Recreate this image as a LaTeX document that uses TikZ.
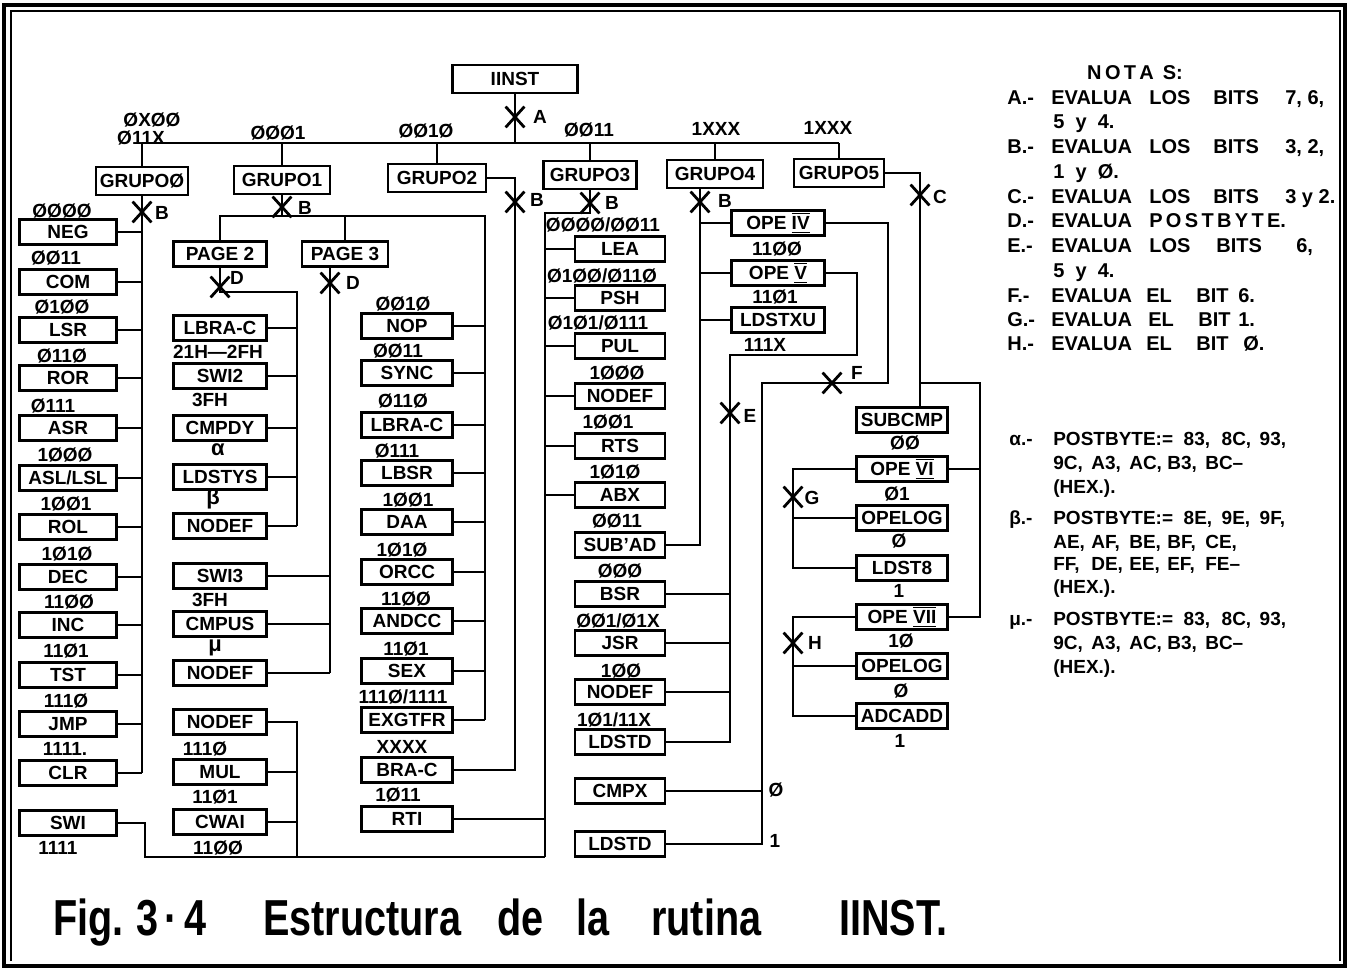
\documentclass[tikz,border=0pt]{standalone}
\usepackage{fontspec}
\setmainfont{Liberation Sans}
\usepackage{graphicx}
\usetikzlibrary{shapes.misc,calc}
\newcommand\RN[1]{\ensuremath{\overline{\underline{\hbox{#1}}}}}
\newcommand\tk[1]{\makebox[19pt][l]{#1}}
\newcommand\cw[1]{\scalebox{0.9}[1.15]{#1}}
\begin{document}
\begin{tikzpicture}[x=0.5pt,y=-0.5pt,line width=1.3pt,
  every node/.style={font=\fontsize{9.5}{10}\selectfont\bfseries},
  bx/.style={draw,line width=1.3pt,minimum height=12.5pt,inner sep=1pt,font=\fontsize{9.5}{11}\selectfont\bfseries},
  wL/.style={bx,minimum width=48.5pt},
  wP/.style={bx,minimum width=46.5pt},
  wM/.style={bx,minimum width=45.5pt},
  wT/.style={bx,minimum width=45pt},
  wF/.style={bx,minimum width=46.5pt},
  wV/.style={bx,minimum width=45.5pt},
  gr/.style={bx,minimum height=14pt},
  lab/.style={inner sep=0pt},
  xm/.style={draw,cross out,line width=1.4pt,minimum width=8pt,minimum height=9pt,inner sep=0pt},
  nt/.style={anchor=base west,inner sep=0pt,font=\fontsize{10}{12}\selectfont\bfseries},
  gt/.style={anchor=base west,inner sep=0pt,font=\fontsize{9.5}{11}\selectfont\bfseries},
  captxt/.style={anchor=base west,inner sep=0pt,font=\fontsize{22}{24}\selectfont\bfseries}]
\useasboundingbox (0,0) rectangle (1348,972);
% frame
\draw[line width=1.8pt] (4,5) rectangle (1345,966);
\draw[line width=1pt] (11,961) -- (11,11) -- (1340,11) -- (1340,961);

% ---------- top ----------
\node[gr,minimum width=62.5pt] (iinst) at (515,79) {IINST};
\node[gr,minimum width=46pt] (g0) at (142,181) {GRUPOØ};
\node[gr,minimum width=48pt] (g1) at (282,180) {GRUPO1};
\node[gr,minimum width=49pt] (g2) at (437,178) {GRUPO2};
\node[gr,minimum width=46.5pt] (g3) at (590,175) {GRUPO3};
\node[gr,minimum width=48pt] (g4) at (715,174) {GRUPO4};
\node[gr,minimum width=45pt] (g5) at (839,173) {GRUPO5};
\coordinate (bus0) at (142,143);
\coordinate (bus5) at (839,143);
\draw (bus0) -- (bus5);
\draw (iinst.south) -- (iinst.south |- bus0);
\foreach \g in {g0,g1,g2,g3,g4,g5} \draw (\g.north) -- (\g.north |- bus0);
\node[xm] (xa) at (515,117) {};
\node[lab] (la) at (540,117) {A};
\node[lab] (b0a) at (152,120) {ØXØØ};
\node[lab] (b0b) at (141,138) {Ø11X};
\node[lab] (b1) at (278,133) {ØØØ1};
\node[lab] (b2) at (426,131) {ØØ1Ø};
\node[lab] (b3) at (589,130) {ØØ11};
\node[lab] (b4) at (716,129) {1XXX};
\node[lab] (b5) at (828,128) {1XXX};

% ---------- GRUPO 0 ----------
\node[wL] (neg) at (68,232) {NEG};
\node[wL] (com) at (68,282) {COM};
\node[wL] (lsr) at (68,330) {LSR};
\node[wL] (ror) at (68,378) {ROR};
\node[wL] (asr) at (68,428) {ASR};
\node[wL] (asl) at (68,478) {ASL/LSL};
\node[wL] (rol) at (68,527) {ROL};
\node[wL] (dec) at (68,577) {DEC};
\node[wL] (inc) at (68,625) {INC};
\node[wL] (tst) at (68,675) {TST};
\node[wL] (jmp) at (68,724) {JMP};
\node[wL] (clr) at (68,773) {CLR};
\node[wL] (swi) at (68,823) {SWI};
\node[lab] (k1) at (62,211) {ØØØØ};
\node[lab] (k2) at (56,258) {ØØ11};
\node[lab] (k3) at (62,307) {Ø1ØØ};
\node[lab] (k4) at (62,356) {Ø11Ø};
\node[lab] (k5) at (53,406) {Ø111};
\node[lab] (k6) at (65,455) {1ØØØ};
\node[lab] (k7) at (66,504) {1ØØ1};
\node[lab] (k8) at (67,554) {1Ø1Ø};
\node[lab] (k9) at (69,602) {11ØØ};
\node[lab] (k10) at (66,651) {11Ø1};
\node[lab] (k11) at (66,701) {111Ø};
\node[lab] (k12) at (65,749) {1111.};
\node[lab] (k13) at (58,848) {1111};
\draw (g0.south) -- (g0.south |- clr.east);
\foreach \n in {neg,com,lsr,ror,asr,asl,rol,dec,inc,tst,jmp,clr}
  \draw (\n.east) -- (\n.east -| g0.south);
\node[xm] (xb0) at (142,212) {};
\node[lab] (lb0) at (162,213) {B};

% ---------- GRUPO 1 ----------
\node[bx,minimum width=46.5pt] (page2) at (220,254) {PAGE 2};
\node[bx,minimum width=43pt] (page3) at (345,254) {PAGE 3};
\coordinate (g1r) at (485,216);
\draw (g1.south) -- (g1.south |- g1r);
\draw (page2.north) |- (g1r) -- (g1r |- 0,720);
\draw (page3.north) -- (page3.north |- g1r);
\node[xm] (xb1) at (282,207) {};
\node[lab] (lb1) at (305,208) {B};

\node[wP] (lbraca) at (220,328) {LBRA-C};
\node[wP] (swia) at (220,376) {SWI2};
\node[wP] (cmpdy) at (220,428) {CMPDY};
\node[wP] (ldstys) at (220,477) {LDSTYS};
\node[wP] (nodefa) at (220,526) {NODEF};
\node[wP] (swib) at (220,576) {SWI3};
\node[wP] (cmpus) at (220,624) {CMPUS};
\node[wP] (nodefb) at (220,673) {NODEF};
\node[wP] (nodefc) at (220,722) {NODEF};
\node[wP] (mul) at (220,772) {MUL};
\node[wP] (cwai) at (220,822) {CWAI};
\node[lab] (p1) at (218,352) {21H—2FH};
\node[lab] (p2) at (210,400) {3FH};
\node[lab,font=\fontsize{11}{12}\selectfont\bfseries] (p3) at (218,450) {α};
\node[lab,font=\fontsize{11}{12}\selectfont\bfseries] (p4) at (213,499) {β};
\node[lab] (p5) at (210,600) {3FH};
\node[lab,font=\fontsize{11}{12}\selectfont\bfseries] (p6) at (215,648) {μ};
\node[lab] (p7) at (205,749) {111Ø};
\node[lab] (p8) at (215,797) {11Ø1};
\node[lab] (p9) at (218,848) {11ØØ};

\coordinate (p2r) at (297,292);
\draw (page2.south) |- (p2r) -- (p2r |- nodefa.east);
\foreach \n in {lbraca,swia,cmpdy,ldstys,nodefa} \draw (\n.east) -- (\n.east -| p2r);
\node[xm] (xd1) at (220,287) {};
\node[lab] (ld1) at (237,278) {D};

\coordinate (p3t) at ([xshift=-7.5pt]page3.south);
\draw (p3t) -- (p3t |- nodefb.east);
\foreach \n in {swib,cmpus,nodefb} \draw (\n.east) -- (\n.east -| p3t);
\node[xm] (xd2) at (330,283) {};
\node[lab] (ld2) at (353,283) {D};

\node[wM] (nop) at (407,326) {NOP};
\node[wM] (sync) at (407,373) {SYNC};
\node[wM] (lbracb) at (407,425) {LBRA-C};
\node[wM] (lbsr) at (407,473) {LBSR};
\node[wM] (daa) at (407,522) {DAA};
\node[wM] (orcc) at (407,572) {ORCC};
\node[wM] (andcc) at (407,621) {ANDCC};
\node[wM] (sex) at (407,671) {SEX};
\node[wM] (exgtfr) at (407,720) {EXGTFR};
\node[wM] (brac) at (407,770) {BRA-C};
\node[wM] (rti) at (407,819) {RTI};
\node[lab] (m1) at (403,304) {ØØ1Ø};
\node[lab] (m2) at (398,351) {ØØ11};
\node[lab] (m3) at (403,401) {Ø11Ø};
\node[lab] (m4) at (397,451) {Ø111};
\node[lab] (m5) at (408,500) {1ØØ1};
\node[lab] (m6) at (402,550) {1Ø1Ø};
\node[lab] (m7) at (406,599) {11ØØ};
\node[lab] (m8) at (406,649) {11Ø1};
\node[lab] (m9) at (403,697) {111Ø/1111};
\node[lab] (m10) at (402,747) {XXXX};
\node[lab] (m11) at (398,795) {1Ø11};
\foreach \n in {nop,sync,lbracb,lbsr,daa,orcc,andcc,sex,exgtfr} \draw (\n.east) -- (\n.east -| g1r);

% ---------- GRUPO 2 ----------
\coordinate (g2x) at (515,770);
\draw (g2.east) -| (g2x) -- (brac.east);
\node[xm] (xb2) at (515,202) {};
\node[lab] (lb2) at (537,200) {B};

% ---------- GRUPO 3 ----------
\node[wT] (lea) at (620,249) {LEA};
\node[wT] (psh) at (620,298) {PSH};
\node[wT] (pul) at (620,346) {PUL};
\node[wT] (nodefd) at (620,396) {NODEF};
\node[wT] (rts) at (620,446) {RTS};
\node[wT] (abx) at (620,495) {ABX};
\node[wT] (subad) at (620,545) {SUB'AD};
\node[wT] (bsr) at (620,594) {BSR};
\node[wT] (jsr) at (620,643) {JSR};
\node[wT] (nodefe) at (620,692) {NODEF};
\node[wT] (ldstda) at (620,742) {LDSTD};
\node[wT] (cmpx) at (620,791) {CMPX};
\node[wT] (ldstdb) at (620,844) {LDSTD};
\node[lab] (t1) at (603,225) {ØØØØ/ØØ11};
\node[lab] (t2) at (602,276) {Ø1ØØ/Ø11Ø};
\node[lab] (t3) at (598,323) {Ø1Ø1/Ø111};
\node[lab] (t4) at (617,373) {1ØØØ};
\node[lab] (t5) at (608,422) {1ØØ1};
\node[lab] (t6) at (615,472) {1Ø1Ø};
\node[lab] (t7) at (617,521) {ØØ11};
\node[lab] (t8) at (620,571) {ØØØ};
\node[lab] (t9) at (618,621) {ØØ1/Ø1X};
\node[lab] (t10) at (621,671) {1ØØ};
\node[lab] (t11) at (614,720) {1Ø1/11X};
\coordinate (g3l) at (545,213);
\coordinate (g3b) at (545,857);
\coordinate (sw) at (145,857);
\coordinate (c3b) at (297,857);
\draw (g3.south) |- (g3l) -- (g3b);
\draw (swi.east) -| (sw) -- (g3b);
\foreach \n in {lea,psh,pul,nodefd,rts,abx} \draw (\n.west) -- (\n.west -| g3l);
\draw (rti.east) -- (rti.east -| g3l);
\draw (nodefc.east) -| (c3b);
\foreach \n in {mul,cwai} \draw (\n.east) -- (\n.east -| c3b);
\node[xm] (xb3) at (590,203) {};
\node[lab] (lb3) at (612,203) {B};

% ---------- GRUPO 4 ----------
\node[wF] (opeiv) at (778,223) {OPE \RN{IV}};
\node[wF] (opev) at (778,273) {OPE \RN{V}};
\node[wF] (ldstxu) at (778,320) {LDSTXU};
\node[lab] (f1l) at (777,249) {11ØØ};
\node[lab] (f2l) at (775,297) {11Ø1};
\node[lab] (f3l) at (765,345) {111X};
\coordinate (g4x) at (700,545);
\draw (g4.south -| g4x) -- (g4x) -- (subad.east);
\foreach \n in {opeiv,opev,ldstxu} \draw (\n.west) -- (\n.west -| g4x);
\node[xm] (xb4) at (700,202) {};
\node[lab] (lb4) at (725,201) {B};
% F
\coordinate (fa) at (888,383);
\coordinate (fb) at (762,844);
\draw (opeiv.east) -| (fa) -| (fb) -- (ldstdb.east);
\draw (cmpx.east) -- (cmpx.east -| fb);
\node[xm] (xf) at (832,383) {};
\node[lab] (lf) at (857,373) {F};
\node[lab] (fz) at (776,790) {Ø};
\node[lab] (fo) at (775,841) {1};
% E
\coordinate (ea) at (857,355);
\coordinate (eb) at (730,742);
\draw (opev.east) -| (ea) -| (eb) -- (ldstda.east);
\foreach \n in {bsr,jsr,nodefe} \draw (\n.east) -- (\n.east -| eb);
\node[xm] (xe) at (730,413) {};
\node[lab] (le) at (750,416) {E};

% ---------- GRUPO 5 ----------
\node[wV] (subcmp) at (902,420) {SUBCMP};
\node[wV] (opevi) at (902,469) {OPE \RN{VI}};
\node[wV] (opeloga) at (902,518) {OPELOG};
\node[wV] (ldst8) at (902,568) {LDST8};
\node[wV] (opevii) at (902,617) {OPE \RN{VII}};
\node[wV] (opelogb) at (902,666) {OPELOG};
\node[wV] (adcadd) at (902,716) {ADCADD};
\node[lab] (v1) at (905,443) {ØØ};
\node[lab] (v2) at (897,494) {Ø1};
\node[lab] (v3) at (899,541) {Ø};
\node[lab] (v4) at (899,591) {1};
\node[lab] (v5) at (901,641) {1Ø};
\node[lab] (v6) at (901,691) {Ø};
\node[lab] (v7) at (900,741) {1};
\coordinate (ct) at ([xshift=9pt]subcmp.north);
\draw (g5.east) -| (ct);
\coordinate (cj) at (ct |- 0,383);
\coordinate (cr) at (980,383);
\draw (cj) -- (cr) |- (opevii.east);
\draw (opevi.east) -- (opevi.east -| cr);
\node[xm] (xc) at (920,195) {};
\node[lab] (lc) at (940,197) {C};
% G
\coordinate (gx) at (793,568);
\draw (opevi.west) -| (gx) -- (ldst8.west);
\draw (opeloga.west) -- (opeloga.west -| gx);
\node[xm] (xg) at (793,497) {};
\node[lab] (lg) at (812,498) {G};
% H
\coordinate (hx) at (793,716);
\draw (opevii.west) -| (hx) -- (adcadd.west);
\draw (opelogb.west) -- (opelogb.west -| hx);
\node[xm] (xh) at (793,643) {};
\node[lab] (lh) at (815,643) {H};

% ---------- notes ----------
\node[font=\fontsize{10}{12}\selectfont\bfseries] (nt0) at (1135,73) {N\,O\,T\,A\ \,S:};
\node[nt] (na0) at (1006,105) {A.-};
\node[nt] (na1) at (1050,105) {EVALUA};
\node[nt] (na2) at (1148,105) {LOS};
\node[nt] (na3) at (1212,105) {BITS};
\node[nt] (na4) at (1284,105) {7, 6,};
\node[nt] (na5) at (1052,129) {5 \ y \ 4.};
\node[nt] (nb0) at (1006,154) {B.-};
\node[nt] (nb1) at (1050,154) {EVALUA};
\node[nt] (nb2) at (1148,154) {LOS};
\node[nt] (nb3) at (1212,154) {BITS};
\node[nt] (nb4) at (1284,154) {3, 2,};
\node[nt] (nb5) at (1052,179) {1 \ y \ Ø.};
\node[nt] (nc0) at (1006,204) {C.-};
\node[nt] (nc1) at (1050,204) {EVALUA};
\node[nt] (nc2) at (1148,204) {LOS};
\node[nt] (nc3) at (1212,204) {BITS};
\node[nt] (nc4) at (1284,204) {3 y 2.};
\node[nt] (nd0) at (1006,228) {D.-};
\node[nt] (nd1) at (1050,228) {EVALUA};
\node[nt] (nd2) at (1148,228) {P\,O\,S\,T\,B\,Y\,T\,E.};
\node[nt] (ne0) at (1006,253) {E.-};
\node[nt] (ne1) at (1050,253) {EVALUA};
\node[nt] (ne2) at (1148,253) {LOS};
\node[nt] (ne3) at (1215,253) {BITS};
\node[nt] (ne4) at (1295,253) {6,};
\node[nt] (ne5) at (1052,278) {5 \ y \ 4.};
\node[nt] (nf0) at (1006,303) {F.-};
\node[nt] (nf1) at (1050,303) {EVALUA};
\node[nt] (nf2) at (1145,303) {EL};
\node[nt] (nf3) at (1195,303) {BIT};
\node[nt] (nf4) at (1237,303) {6.};
\node[nt] (ng0) at (1006,327) {G.-};
\node[nt] (ng1) at (1050,327) {EVALUA};
\node[nt] (ng2) at (1147,327) {EL};
\node[nt] (ng3) at (1197,327) {BIT};
\node[nt] (ng4) at (1237,327) {1.};
\node[nt] (nh0) at (1006,351) {H.-};
\node[nt] (nh1) at (1050,351) {EVALUA};
\node[nt] (nh2) at (1145,351) {EL};
\node[nt] (nh3) at (1195,351) {BIT};
\node[nt] (nh4) at (1242,351) {Ø.};

\node[gt] (q0) at (1008,446) {α.-};
\node[gt] (q1) at (1052,446) {POSTBYTE:=\ \ \tk{83,}\tk{8C,}93,};
\node[gt] (q2) at (1052,470) {\tk{9C,}\tk{A3,}\tk{AC,}\tk{B3,}BC--};
\node[gt] (q3) at (1052,494) {(HEX.).};
\node[gt] (r0) at (1008,524) {β.-};
\node[gt] (r1) at (1052,524) {POSTBYTE:=\ \ \tk{8E,}\tk{9E,}9F,};
\node[gt] (r2) at (1052,548) {\tk{AE,}\tk{AF,}\tk{BE,}\tk{BF,}CE,};
\node[gt] (r3) at (1052,570) {\tk{FF,}\tk{DE,}\tk{EE,}\tk{EF,}FE--};
\node[gt] (r4) at (1052,593) {(HEX.).};
\node[gt] (s0) at (1008,625) {μ.-};
\node[gt] (s1) at (1052,625) {POSTBYTE:=\ \ \tk{83,}\tk{8C,}93,};
\node[gt] (s2) at (1052,649) {\tk{9C,}\tk{A3,}\tk{AC,}\tk{B3,}BC--};
\node[gt] (s3) at (1052,673) {(HEX.).};

% ---------- caption ----------
\node[captxt] (cp1) at (52,935) {\cw{Fig.}};
\node[captxt] (cp2) at (135,935) {\cw{3\,·\,4}};
\node[captxt] (cp3) at (262,935) {\cw{Estructura}};
\node[captxt] (cp4) at (496,935) {\cw{de}};
\node[captxt] (cp5) at (575,935) {\cw{la}};
\node[captxt] (cp6) at (650,935) {\cw{rutina}};
\node[captxt] (cp7) at (838,935) {\cw{IINST.}};
\end{tikzpicture}
\end{document}
